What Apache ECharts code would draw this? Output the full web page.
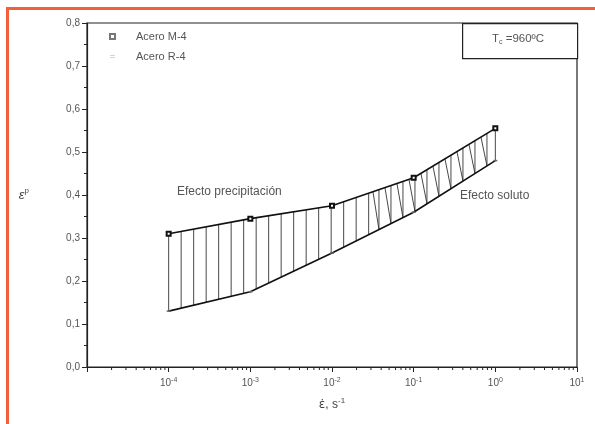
<!DOCTYPE html>
<html>
<head>
<meta charset="utf-8">
<script src="https://cdn.jsdelivr.net/npm/echarts@6/dist/echarts.min.js"></script>
<style>
  html, body { margin: 0; padding: 0; background: #fff; }
  #chart { width: 595px; height: 424px; }
</style>
</head>
<body>
<div id="chart"></div>
<script>
// Strain rate (s^-1) at which each steel was tested
const rates = [1e-4, 1e-3, 1e-2, 1e-1, 1];
// Peak strain for each steel
const aceroM4 = [0.31, 0.345, 0.375, 0.44, 0.555];
const aceroR4 = [0.13, 0.175, 0.265, 0.36, 0.48];
// Rate where the hatching switches from precipitation to solute effect
const solutoStart = 0.03;
// Decades drawn on the log axis
const decades = [-5, -4, -3, -2, -1, 0];
const minorMultipliers = [2, 3, 4, 5, 6, 7, 8, 9];

const FONT = 'Liberation Sans';
const TEXT = '#555';
const INK = '#222';

const chart = echarts.init(document.getElementById('chart'), null, { renderer: 'canvas' });

function lerpPath(pts, x) {
  for (let i = 0; i < pts.length - 1; i++) {
    const a = pts[i], b = pts[i + 1];
    if (x >= a[0] - 0.01 && x <= b[0] + 0.01) {
      const t = (x - a[0]) / (b[0] - a[0]);
      return a[1] + t * (b[1] - a[1]);
    }
  }
  return x < pts[0][0] ? pts[0][1] : pts[pts.length - 1][1];
}

// Hatching between the two curves
function renderHatch(params, api) {
  const up = rates.map((r, i) => api.coord([r, aceroM4[i]]));
  const lo = rates.map((r, i) => api.coord([r, aceroR4[i]]));
  const x0 = up[0][0], x1 = up[up.length - 1][0];
  const xb = api.coord([solutoStart, 0])[0];
  const children = [];
  const style = { stroke: '#333', lineWidth: 0.9 };
  const step = 12.5;
  for (let x = x0; x <= xb; x += step) {
    children.push({ type: 'line', shape: { x1: x, y1: lerpPath(up, x), x2: x, y2: lerpPath(lo, x) }, style });
  }
  for (let x = xb + 8; x <= x1 + 0.5; x += 12) {
    children.push({ type: 'line', shape: { x1: x, y1: lerpPath(up, x), x2: x, y2: lerpPath(lo, x) }, style });
    const xs = Math.max(xb, x - 6);
    children.push({ type: 'line', shape: { x1: xs, y1: lerpPath(up, xs), x2: x, y2: lerpPath(lo, x) }, style });
  }
  children.push({ type: 'line', shape: { x1: x1, y1: lerpPath(up, x1), x2: x1, y2: lerpPath(lo, x1) }, style });
  return { type: 'group', children };
}

// Minor ticks of the log axis (2..9 per decade)
function renderMinorTicks(params, api) {
  const children = [];
  decades.forEach(d => {
    minorMultipliers.forEach(m => {
      const p = api.coord([m * Math.pow(10, d), 0]);
      children.push({ type: 'line', shape: { x1: p[0], y1: p[1], x2: p[0], y2: p[1] + 3 }, style: { stroke: INK, lineWidth: 1 } });
    });
  });
  return { type: 'group', children };
}

const option = {
  backgroundColor: '#fff',
  animation: false,
  textStyle: { fontFamily: FONT },
  grid: {
    left: 87, right: 18, top: 23, bottom: 57,
    show: true, borderColor: INK, borderWidth: 1.2, backgroundColor: 'transparent'
  },
  legend: {
    left: 104, top: 26, orient: 'vertical', itemGap: 9,
    itemWidth: 5, itemHeight: 5,
    textStyle: { fontFamily: FONT, fontSize: 11, color: TEXT, padding: [0, 0, 0, 16] },
    data: [
      { name: 'Acero M-4', icon: 'emptyRect', itemStyle: { color: '#777', borderColor: '#777', borderWidth: 1 } },
      { name: 'Acero R-4', icon: 'path://M0,1 L8,1 L8,2 L0,2 Z M0,5 L8,5 L8,6 L0,6 Z', itemStyle: { color: '#aaa' } }
    ]
  },
  xAxis: {
    type: 'log', logBase: 10, min: 1e-5, max: 10,
    name: '{e|ε̇}{n|, s}{s|-1}', nameLocation: 'middle', nameGap: 30,
    nameTextStyle: {
      rich: {
        e: { fontFamily: 'DejaVu Sans', fontSize: 12, color: '#444' },
        n: { fontFamily: FONT, fontSize: 12, color: '#444' },
        s: { fontFamily: FONT, fontSize: 8, color: '#444', padding: [0, 0, 7, 0] }
      }
    },
    axisLine: { lineStyle: { color: INK, width: 1.2 } },
    axisTick: { show: true, length: 5, lineStyle: { color: INK, width: 1 } },
    splitLine: { show: false },
    axisLabel: {
      margin: 10,
      formatter: v => {
        const e = Math.round(Math.log10(v));
        if (e === -5) return '';
        return '{b|10}{s|' + e + '}';
      },
      rich: {
        b: { fontFamily: FONT, fontSize: 10, color: TEXT },
        s: { fontFamily: FONT, fontSize: 7, color: TEXT, padding: [0, 0, 6, 0] }
      }
    }
  },
  yAxis: {
    type: 'value', min: 0, max: 0.8, interval: 0.1,
    name: '{e|ε}{s|p}', nameLocation: 'middle', nameGap: 58, nameRotate: 0,
    nameTextStyle: {
      rich: {
        e: { fontFamily: FONT, fontSize: 13, color: '#444', fontStyle: 'italic' },
        s: { fontFamily: FONT, fontSize: 8, color: '#444', padding: [0, 0, 8, 0] }
      }
    },
    axisLine: { show: true, lineStyle: { color: INK, width: 1.2 } },
    axisTick: { show: true, length: 5, lineStyle: { color: INK, width: 1 } },
    minorTick: { show: true, splitNumber: 2, length: 3, lineStyle: { color: INK, width: 1 } },
    splitLine: { show: false },
    axisLabel: {
      fontFamily: FONT, fontSize: 10, color: TEXT, margin: 7,
      formatter: v => v.toFixed(1).replace('.', ',')
    }
  },
  series: [
    {
      type: 'custom', name: 'hatch', renderItem: renderHatch, data: [0],
      silent: true, z: 1, clip: false
    },
    {
      type: 'custom', name: 'minor', renderItem: renderMinorTicks, data: [0],
      silent: true, z: 1, clip: false
    },
    {
      name: 'Acero M-4', type: 'line',
      data: rates.map((r, i) => [r, aceroM4[i]]),
      symbol: 'emptyRect', symbolSize: 4, showSymbol: true,
      lineStyle: { color: '#111', width: 1.6 },
      itemStyle: { color: '#111', borderColor: '#444', borderWidth: 0.8 },
      z: 3
    },
    {
      name: 'Acero R-4', type: 'line',
      data: rates.map((r, i) => [r, aceroR4[i]]),
      symbol: 'rect', symbolSize: [4, 1.5], showSymbol: true,
      lineStyle: { color: '#111', width: 1.6 },
      itemStyle: { color: '#666' },
      z: 3
    }
  ],
  graphic: [
    // page frame
    {
      type: 'rect', left: 5, top: 6, silent: true,
      shape: { x: 0, y: 0, width: 620, height: 450 },
      style: { fill: 'none', stroke: '#f0603a', lineWidth: 3 }
    },
    // temperature box
    {
      type: 'rect', left: 462, top: 23, silent: true,
      shape: { x: 0, y: 0, width: 115, height: 35 },
      style: { fill: '#fff', stroke: INK, lineWidth: 1.2 }
    },
    {
      type: 'text', left: 492, top: 33, silent: true,
      style: {
        text: '{t|T}{s|c}{t| =960ºC}',
        rich: {
          t: { fontFamily: FONT, fontSize: 11.5, fill: TEXT },
          s: { fontFamily: FONT, fontSize: 7, fill: TEXT, padding: [6, 0, 0, 0] }
        }
      }
    },
    {
      type: 'text', left: 177, top: 186, silent: true,
      style: { text: 'Efecto precipitación', fontFamily: FONT, fontSize: 12, fill: TEXT }
    },
    {
      type: 'text', left: 460, top: 190, silent: true,
      style: { text: 'Efecto soluto', fontFamily: FONT, fontSize: 12, fill: TEXT }
    }
  ]
};

chart.setOption(option);
</script>
</body>
</html>
